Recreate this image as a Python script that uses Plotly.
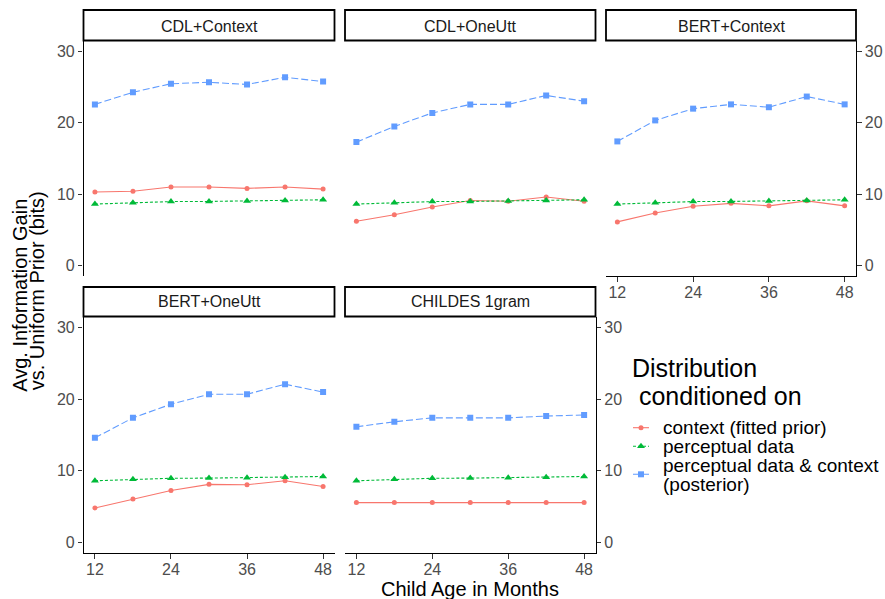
import plotly.graph_objects as go

# ---------------- data ----------------
ages = [12, 18, 24, 30, 36, 42, 48]
panel_names = ["CDL+Context", "CDL+OneUtt", "BERT+Context", "BERT+OneUtt", "CHILDES 1gram"]
series_names = ["context (fitted prior)", "perceptual data", "perceptual data & context", "(posterior)"]
y_ticks = [0, 10, 20, 30]
x_ticks = [12, 24, 36, 48]

perceptual = [8.6, 8.8, 8.95, 8.97, 9.02, 9.1, 9.2]

prior_cdl_context = [10.3, 10.4, 11.0, 11.0, 10.8, 11.0, 10.7]
prior_cdl_oneutt = [6.2, 7.1, 8.2, 9.1, 9.0, 9.6, 9.0]
prior_bert_context = [6.1, 7.35, 8.3, 8.7, 8.35, 9.05, 8.35]
prior_bert_oneutt = [4.8, 6.05, 7.25, 8.1, 8.05, 8.6, 7.8]
prior_childes = [5.55, 5.55, 5.55, 5.55, 5.55, 5.55, 5.55]

post_cdl_context = [22.6, 24.3, 25.5, 25.7, 25.4, 26.4, 25.8]
post_cdl_oneutt = [17.3, 19.5, 21.4, 22.6, 22.6, 23.85, 23.05]
post_bert_context = [17.4, 20.35, 22.0, 22.6, 22.2, 23.7, 22.6]
post_bert_oneutt = [14.6, 17.4, 19.3, 20.7, 20.7, 22.1, 21.0]
post_childes = [16.15, 16.85, 17.4, 17.4, 17.4, 17.65, 17.8]

priors = [prior_cdl_context, prior_cdl_oneutt, prior_bert_context, prior_bert_oneutt, prior_childes]
posts = [post_cdl_context, post_cdl_oneutt, post_bert_context, post_bert_oneutt, post_childes]

# ---------------- styling / layout ----------------
W, H = 885, 599
FONT = "Liberation Sans, Arial, Helvetica, sans-serif"
RED, GREEN, BLUE = "#F8766D", "#00BA38", "#619CFF"
TICK_GREY = "#4D4D4D"
CLEAR = "rgba(0,0,0,0)"


def fx(px):
    return px / W


def fy(py):
    return 1 - py / H


# panel geometry in pixels: left, right, top, bottom
boxes = [
    (83.5, 334.5, 41, 276),
    (345, 595.5, 41, 276),
    (606, 856, 41, 276),
    (83.5, 334.5, 317, 553),
    (345, 595.5, 317, 553),
]
strip_rows = {41: (10, 40.5), 317: (287, 316.5)}
# axis visibility: (x shown, y side or None)
axis_cfg = [
    (False, "left"),
    (False, None),
    (True, "right"),
    (True, "left"),
    (True, "right"),
]

fig = go.Figure()
layout = dict(
    width=W, height=H, margin=dict(l=0, r=0, t=0, b=0),
    paper_bgcolor="white", plot_bgcolor=CLEAR, showlegend=False,
    font=dict(family=FONT),
)
shapes = []
annotations = []

line_styles = [
    dict(color=RED, width=1.1, dash="solid"),
    dict(color=GREEN, width=1.1, dash="3px,2px"),
    dict(color=BLUE, width=1.1, dash="7px,3px"),
]
marker_styles = [
    dict(color=RED, size=5, symbol="circle"),
    dict(color=GREEN, size=7, symbol="triangle-up"),
    dict(color=BLUE, size=6, symbol="square"),
]

for i, (name, (l, r, t, b)) in enumerate(zip(panel_names, boxes)):
    k = i + 1
    xa = "x" if k == 1 else f"x{k}"
    ya = "y" if k == 1 else f"y{k}"
    xkey = "xaxis" if k == 1 else f"xaxis{k}"
    ykey = "yaxis" if k == 1 else f"yaxis{k}"
    xshow, yside = axis_cfg[i]

    layout[xkey] = dict(
        domain=[fx(l), fx(r)], anchor=ya, range=[10.2, 49.8],
        tickvals=x_ticks, ticktext=[str(v) for v in x_ticks],
        showgrid=False, zeroline=False, visible=xshow, side="bottom",
        showline=True, linecolor="black", linewidth=1.1,
        ticks="outside", ticklen=4.5, tickwidth=1.1, tickcolor="#333333",
        ticklabelstandoff=-3,
        tickfont=dict(size=16, color=TICK_GREY, family=FONT),
        fixedrange=True,
    )
    layout[ykey] = dict(
        domain=[fy(b), fy(t)], anchor=xa, range=[-1.5, 31.5],
        tickvals=y_ticks, ticktext=[str(v) for v in y_ticks],
        showgrid=False, zeroline=False, visible=yside is not None,
        side=yside if yside else "left",
        showline=True, linecolor="black", linewidth=1.1,
        ticks="outside", ticklen=4.5, tickwidth=1.1, tickcolor="#333333",
        tickfont=dict(size=16, color=TICK_GREY, family=FONT),
        fixedrange=True,
    )

    for s, yvals in enumerate([priors[i], perceptual, posts[i]]):
        fig.add_trace(go.Scatter(
            x=ages, y=yvals, mode="lines+markers", xaxis=xa, yaxis=ya,
            line=line_styles[s], marker=marker_styles[s],
            hoverinfo="skip",
        ))

    st, sb = strip_rows[t]
    shapes.append(dict(
        type="rect", xref="paper", yref="paper",
        x0=fx(l), x1=fx(r), y0=fy(sb), y1=fy(st),
        line=dict(color="black", width=1.8), fillcolor="white", layer="above",
    ))
    annotations.append(dict(
        text=name, xref="paper", yref="paper",
        x=fx((l + r) / 2), y=fy(26.1 if t == 41 else 301.7),
        xanchor="center", yanchor="middle", showarrow=False,
        font=dict(size=16, color="#1A1A1A", family=FONT),
    ))

# axis titles
annotations.append(dict(
    text="Child Age in Months", xref="paper", yref="paper",
    x=fx(470), y=fy(589), xanchor="center", yanchor="middle", showarrow=False,
    font=dict(size=20, color="black", family=FONT),
))
annotations.append(dict(
    text="Avg. Information Gain", xref="paper", yref="paper",
    x=fx(19.3), y=fy(295.5), xanchor="center", yanchor="middle", showarrow=False,
    textangle=-90, font=dict(size=20, color="black", family=FONT),
))
annotations.append(dict(
    text="vs. Uniform Prior (bits)", xref="paper", yref="paper",
    x=fx(37.3), y=fy(291), xanchor="center", yanchor="middle", showarrow=False,
    textangle=-90, font=dict(size=20, color="black", family=FONT),
))

# ---------------- legend (manual) ----------------
annotations.append(dict(
    text="Distribution", xref="paper", yref="paper",
    x=fx(630), y=fy(368), xanchor="left", yanchor="middle", showarrow=False,
    font=dict(size=25, color="black", family=FONT),
))
annotations.append(dict(
    text=" conditioned on", xref="paper", yref="paper",
    x=fx(630), y=fy(395.5), xanchor="left", yanchor="middle", showarrow=False,
    font=dict(size=25, color="black", family=FONT),
))
legend_text_y = [427.8, 446.7, 465.7, 484]
for txt, ty in zip(series_names, legend_text_y):
    annotations.append(dict(
        text=txt, xref="paper", yref="paper",
        x=fx(661), y=fy(ty), xanchor="left", yanchor="middle", showarrow=False,
        font=dict(size=19, color="black", family=FONT),
    ))

# legend keys drawn on an overlay pixel-space axis
layout["xaxis6"] = dict(domain=[0, 1], anchor="y6", range=[0, W], visible=False, fixedrange=True)
layout["yaxis6"] = dict(domain=[0, 1], anchor="x6", range=[H, 0], visible=False, fixedrange=True)
key_y = [427.7, 446.2, 474.3]
key_x0, key_x1 = 633, 649
for s, ky in enumerate(key_y):
    fig.add_trace(go.Scatter(
        x=[key_x0, key_x1], y=[ky, ky], mode="lines", xaxis="x6", yaxis="y6",
        line=line_styles[s], hoverinfo="skip",
    ))
    fig.add_trace(go.Scatter(
        x=[(key_x0 + key_x1) / 2], y=[ky], mode="markers", xaxis="x6", yaxis="y6",
        marker=marker_styles[s], hoverinfo="skip",
    ))

layout["shapes"] = shapes
layout["annotations"] = annotations
fig.update_layout(**layout)
fig.write_html(
    "out.html",
    config={"displayModeBar": False},
    post_script="document.body.style.margin='0';document.body.style.padding='0';",
)
